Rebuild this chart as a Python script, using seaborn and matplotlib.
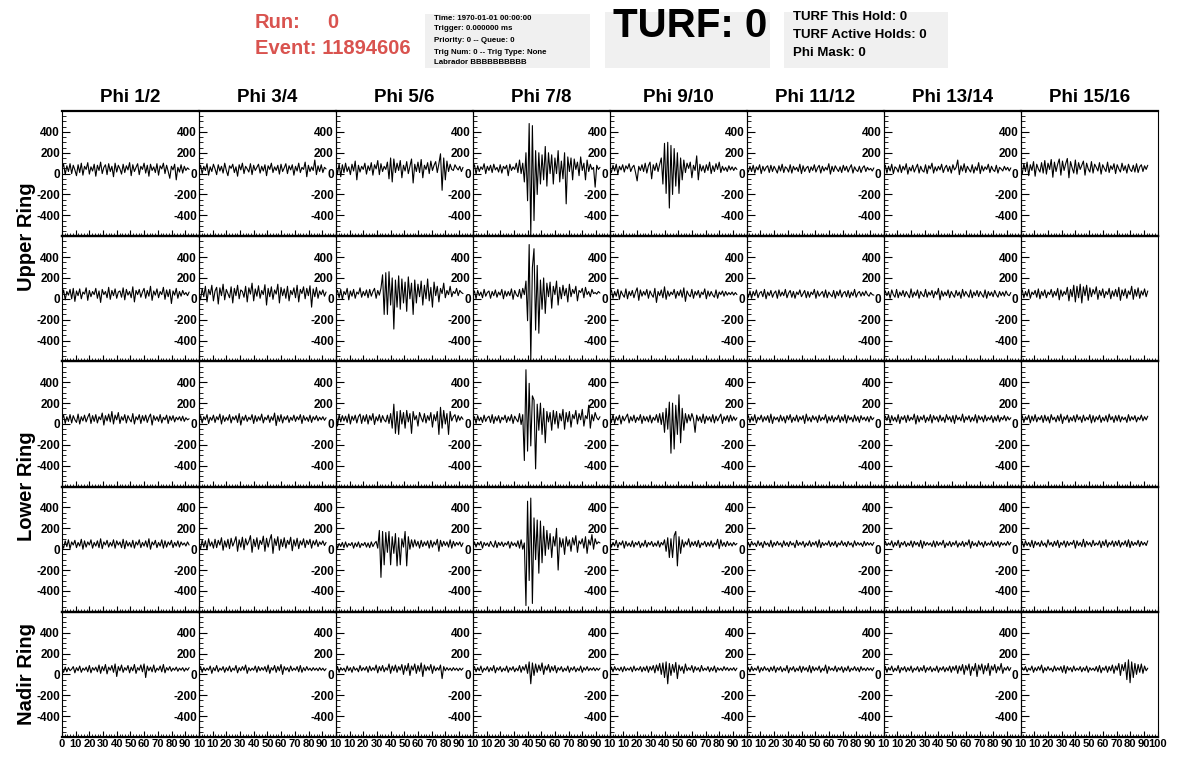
import numpy as np
import matplotlib
matplotlib.use("Agg")
import matplotlib.pyplot as plt
from matplotlib.patches import Rectangle
from matplotlib.ticker import FixedLocator, MultipleLocator
import seaborn as sns

sns.set_style("white")
plt.rcParams["font.family"] = ["Liberation Sans", "DejaVu Sans"]
plt.rcParams["font.weight"] = "bold"
plt.rcParams["axes.unicode_minus"] = False
plt.rcParams["text.color"] = "black"
plt.rcParams["xtick.color"] = "black"
plt.rcParams["ytick.color"] = "black"

phi_labels = ["Phi 1/2", "Phi 3/4", "Phi 5/6", "Phi 7/8",
              "Phi 9/10", "Phi 11/12", "Phi 13/14", "Phi 15/16"]
ring_labels = ["Upper Ring", "Lower Ring", "Nadir Ring"]
y_ticks = [-400, -200, 0, 200, 400]
x_ticks = [0, 10, 20, 30, 40, 50, 60, 70, 80, 90, 100]
DT = 1.175  # ns per sample

info_lines = ["Time: 1970-01-01 00:00:00", "Trigger: 0.000000 ms",
              "Priority: 0 -- Queue: 0", "Trig Num: 0 -- Trig Type: None",
              "Labrador BBBBBBBBBB"]
turf_lines = ["TURF This Hold: 0", "TURF Active Holds: 0", "Phi Mask: 0"]

# ---- upper ring, first row ----
u1_c0 = [50, 90, -10, 75, 20, 95, 0, 80, 35, -20, 85, 10, 100, -15, 70, 40, 105, -5, 65, 25,
         90, -25, 80, 30, 110, 0, 60, 85, -10, 95, 20, 70, -30, 100, 15, 80, 45, -5, 90, 10,
         75, 35, 105, -20, 85, 20, 60, 95, -10, 70, 40, 100, 5, 80, -25, 90, 30, 65, 10, 95,
         -15, 75, 45, 100, 0, 80, 20, -45, 70, 35, 90, -60, 60, 15, 85, 5, 70, 30, 55, 40]
u1_c1 = [40, 80, 0, 70, 30, 95, -15, 65, 20, 90, 45, -10, 85, 25, 70, 5, 100, 30, -20, 75,
         50, 90, 10, 65, -25, 85, 35, 100, 0, 70, 45, 15, 95, -10, 80, 30, 60, 90, 5, 70,
         25, 85, -20, 75, 40, 100, 10, 65, 30, 80, -5, 90, 20, 55, 95, 0, 75, 35, 85, -15,
         70, 25, 100, 10, 60, 40, 110, -30, 80, 20, 65, 30, 130, -10, 75, 20, 85, 10, 60, 45]
u1_c2 = [70, 0, 95, -30, 85, 10, 100, 20, 65, -10, 90, 25, 120, -60, 80, 15, 70, 40, 100, -5,
         75, 30, 105, -15, 85, 45, 125, -10, 95, 20, 70, 40, 110, -50, 150, -80, 140, 10, 100, 30,
         125, -40, 80, 25, 115, 0, 70, 140, -90, 90, 20, 110, 10, 135, -40, 80, 40, 105, 0, 120,
         30, 80, 115, 10, 95, 190, -160, 150, -60, 120, 20, 90, 40, 30, 85, 55, 35, 70, 20, 60]
u1_c3 = [50, 85, -5, 75, 20, 65, 40, 95, 0, 70, 30, 80, 10, 90, 35, 60, 15, 85, 5, 70,
         45, 80, -20, 90, 30, 65, 40, 100, 10, 130, 0, 100, -80, 200, -260, 480, -590, 460, -450, 220,
         -200, 200, -100, 180, -60, 260, -120, 200, 0, 180, -100, 150, 0, 220, -80, 120, -50, 200, -290, 160,
         20, 150, -60, 140, 40, 110, -20, 160, 30, 100, -60, 130, 20, 90, 40, 60, -130, 80, 40, 60]
u1_c4 = [60, 10, 80, 25, 90, -5, 70, 35, 85, 15, 75, 45, 95, 20, 60, 80, 10, -70, 70, 30,
         85, 20, 100, 5, 75, 110, -50, 85, 30, 100, 20, 90, 150, -100, 290, -190, 300, -330, 270, -200,
         240, -120, 200, -190, 150, -60, 130, 10, 100, 50, 110, -40, 80, 30, 170, -60, 90, 25, 75, 10,
         85, 30, 110, 0, 75, 20, 95, 40, 110, 10, 70, 30, 60, 20, 75, 35, 65, 30, 60, 40]
u1_c5 = [55, 15, 70, 20, 80, 5, 65, 35, 85, 0, 70, 25, 60, 75, 10, 80, 20, 70, 40, 5,
         75, 25, 90, 10, 65, 50, 15, 85, 5, 70, 35, 60, 20, 90, 0, 75, 20, 55, 70, 10,
         65, 30, 85, 15, 55, 80, 5, 70, 25, 60, 35, 95, -5, 70, 20, 75, 45, 20, 65, 10,
         80, 30, 70, 15, 55, 85, 5, 65, 35, 20, 70, 10, 55, 75, 20, 60, 35, 50, 25, 55]
u1_c6 = [45, 80, 5, 70, 25, 90, 0, 65, 50, 15, 85, 10, 70, 35, 95, -5, 60, 25, 80, 15,
         55, 90, 5, 70, 30, 15, 85, 0, 75, 45, 100, 5, 65, 25, 70, 35, 90, 10, 55, 80,
         20, 70, 5, 85, 35, 60, 130, -10, 75, 25, 95, 10, 70, 40, 15, 85, 5, 65, 30, 105,
         0, 75, 25, 65, 40, 90, 10, 70, 35, 20, 80, 5, 60, 45, 25, 70, 35, 60, 25, 55]
u1_c7 = [70, -5, 95, 20, 110, -20, 85, 30, 115, -25, 90, 45, 15, 105, 5, 125, -5, 100, 40, 135,
         -35, 110, 20, 90, 140, -15, 120, 30, 95, 145, -40, 115, 55, 5, 130, -5, 105, 40, 80, 120,
         -15, 100, 45, 15, 115, 5, 90, 60, 25, 105, -5, 85, 50, 20, 110, 10, 75, 40, 95, 0,
         85, 45, 15, 100, 30, 75, 5, 90, 40, 20, 80, 15, 95, 10, 65, 85, 20, 75, 40, 80]

# ---- upper ring, second row ----
u2_c0 = [25, 85, -10, 70, 35, 90, 0, 100, -25, 75, 30, 95, 0, 65, 45, 105, -15, 80, 20, 70,
         40, 100, 5, 75, -35, 90, 40, 70, 10, 110, -5, 80, 30, 95, 5, 65, 75, 15, 105, -10,
         90, 35, 70, 10, 115, -30, 80, 40, 90, 15, 65, 100, 5, 80, 25, 120, -15, 75, 35, 95,
         10, 70, 40, 110, -5, 85, 20, 90, -45, 75, 35, 100, 5, 70, 25, 80, 40, 60, 30, 65]
u2_c1 = [55, -10, 100, 20, 120, -30, 90, 40, 130, -20, 75, 110, -50, 105, 30, 140, -10, 90, 50, 10,
         115, -40, 100, 30, 130, 0, 85, 70, 15, 120, -30, 105, 45, 150, -20, 95, 25, 125, 5, 80,
         40, 135, -60, 100, 20, 115, -5, 85, 45, 140, -40, 110, 30, 95, 5, 120, -20, 80, 40, 105,
         10, 130, -30, 90, 50, 115, 0, 100, 30, 125, -80, 95, 20, 110, 5, 75, 40, 85, 25, 65]
u2_c2 = [50, 80, 10, 90, -5, 70, 40, 100, -10, 75, 25, 90, 5, 65, 45, 105, 15, 70, 30, 85,
         10, 90, 25, 70, 100, 5, 80, 35, 100, 230, -150, 250, -150, 260, -60, 200, -290, 180, -80, 220,
         -100, 190, -40, 160, -120, 210, 0, 150, -150, 180, -40, 140, 20, 170, -60, 130, 0, 190, -20, 110,
         -80, 160, 30, 120, -30, 100, 50, 150, 10, 80, 40, 120, 20, 70, 50, 100, 30, 80, 60, 50]
u2_c3 = [40, 75, 0, 80, 30, 65, 10, 90, 25, 60, 75, 5, 70, 30, 85, 15, 65, 35, 90, 0,
         75, 25, 70, 30, 95, -5, 80, 40, 20, 90, 5, 100, 40, 170, -210, 520, -590, 300, 480, -300, 320,
         -330, 180, -100, 200, -140, 150, 20, 160, -90, 120, 40, 170, -60, 110, 0, 130, 30, 100, -30, 140,
         20, 90, 50, 120, -20, 80, 60, 100, 10, 110, 40, 70, 20, 90, 50, 60, 45, 70, 55]
u2_c4 = [45, 85, 5, 70, 25, 90, -5, 75, 40, 15, 95, 0, 70, 30, 80, 10, 65, 105, -15, 85,
         25, 70, 35, 90, 5, 75, 40, 15, 100, -35, 70, 30, 85, 10, 115, -5, 75, 25, 65, 40,
         90, 5, 70, 30, 85, 15, 105, -25, 75, 40, 20, 90, 5, 70, 35, 80, 10, 65, 40, 95,
         0, 75, 25, 70, 35, 15, 85, 5, 65, 40, 75, 25, 70, 35, 60, 40, 65, 35, 60, 40]
u2_c5 = [60, 15, 75, 5, 70, 30, 85, 10, 55, 70, 20, 90, 0, 65, 30, 80, 15, 55, 75, 5,
         85, 25, 65, 30, 90, 10, 55, 80, 15, 70, 5, 65, 40, 85, 20, 50, 80, 10, 70, 15,
         65, 40, 90, 5, 75, 25, 50, 70, 15, 85, 10, 65, 40, 20, 80, 5, 70, 30, 85, 15,
         55, 70, 20, 80, 10, 65, 30, 90, 15, 55, 70, 25, 65, 30, 75, 40, 25, 60, 40, 35]
u2_c6 = [25, 75, 30, 70, 5, 85, 40, 15, 90, 10, 65, 30, 80, 20, 70, 40, 10, 95, 15, 65,
         30, 85, 5, 70, 40, 20, 90, 15, 65, 35, 80, 10, 70, 40, 100, -10, 75, 25, 65, 30,
         85, 10, 70, 40, 15, 80, 30, 65, 5, 90, 25, 70, 40, 15, 85, 10, 65, 30, 80, 20,
         70, 40, 15, 85, 5, 70, 30, 65, 20, 80, 40, 15, 70, 30, 65, 25, 75, 40, 30, 60]
u2_c7 = [45, 85, 10, 70, 25, 90, 5, 65, 40, 80, 15, 95, 0, 70, 30, 85, 10, 65, 40, 90,
         15, 70, 30, 100, -10, 85, 25, 70, 40, 110, -20, 90, 20, 130, -30, 120, 10, 140, -40, 115,
         30, 130, -15, 105, 20, 90, 45, 115, -5, 80, 30, 95, 10, 70, 40, 100, 0, 75, 25, 90,
         20, 110, -15, 85, 30, 95, 5, 75, 40, 120, -5, 90, 25, 105, 5, 75, 35, 95, 20, 75]

# ---- lower ring, first row ----
l1_c0 = [45, 85, 5, 70, 25, 90, 10, 80, 40, 15, 95, 0, 70, 30, 85, 20, 65, 100, 5, 80,
         25, 90, 10, 70, 40, 105, -10, 80, 30, 95, 20, 120, 0, 85, 40, 110, 5, 70, 35, 90,
         10, 80, 45, 20, 100, 0, 70, 40, 90, 5, 80, 30, 85, 15, 65, 95, -10, 80, 35, 70,
         25, 90, 10, 65, 40, 85, 5, 75, 35, 80, 20, 65, 40, 70, 30, 75, 25, 60, 40, 50]
l1_c1 = [30, 80, 10, 70, 40, 90, 5, 65, 35, 85, 15, 70, 40, 95, 0, 80, 25, 65, 35, 90,
         10, 70, 40, 80, 15, 100, -10, 70, 35, 85, 25, 65, 40, 90, 5, 80, 25, 70, 35, 95,
         10, 65, 40, 85, 15, 70, 35, 105, -15, 80, 25, 90, 10, 70, 40, 80, 15, 65, 35, 85,
         25, 70, 40, 90, 5, 80, 35, 65, 25, 85, 15, 70, 40, 80, 30, 65, 40, 70, 35, 60]
l1_c2 = [130, -20, 90, 20, 80, 30, 75, 15, 95, 0, 75, 35, 85, 10, 70, 95, 5, 80, 25, 90,
         0, 80, 35, 100, -5, 70, 30, 90, 15, 80, 40, 20, 85, 5, 100, -40, 190, -90, 120, -100,
         130, 0, 110, -40, 130, 20, 100, -90, 120, 40, 80, -20, 110, 60, 20, 100, 10, 80, 35, 110,
         -30, 90, 30, 120, -100, 160, -40, 130, 0, 100, -100, 120, 30, 70, 90, 20, 80, 35, 70, 45]
l1_c3 = [40, 70, 5, 80, 30, 65, 15, 85, 25, 60, 75, 15, 90, 5, 70, 30, 80, 10, 65, 40,
         85, 15, 70, 30, 90, 5, 75, 45, 20, 100, -5, 90, -350, 520, -260, 390, -210, 270, 230, -430,
         190, -60, 200, -100, 150, -180, 120, 20, 110, -60, 130, 0, 120, -40, 100, 30, 140, -50, 110, 20,
         120, -30, 90, 50, 130, 0, 100, 40, 140, -20, 80, 50, 180, -40, 90, 30, 110, 60, 40, 70]
l1_c4 = [75, 15, 90, 5, 70, 35, 85, 0, 75, 30, 65, 95, 10, 70, 30, 85, 15, 65, 35, 90,
         5, 75, 30, 70, 20, 85, 10, 65, 35, 90, 15, 100, -5, 110, -80, 150, -50, 210, -280, 200, -240, 180,
         -100, 280, -180, 150, -60, 100, 10, 90, 30, 100, 50, -80, 85, 30, 70, 15, 95, 5,
         75, 35, 70, 20, 90, 10, 75, 30, 65, 95, 5, 70, 35, 80, 20, 85, 30, 70, 35, 60]
l1_c5 = [50, 80, 15, 70, 30, 90, 10, 65, 40, 85, 20, 70, 35, 80, 15, 95, 5, 70, 40, 65,
         20, 85, 30, 70, 10, 80, 40, 90, 15, 65, 30, 85, 20, 70, 40, 80, 5, 95, 30, 65,
         20, 80, 40, 70, 15, 85, 30, 65, 40, 90, 10, 70, 30, 80, 20, 65, 40, 85, 15, 70,
         30, 90, 10, 80, 40, 65, 20, 85, 30, 70, 15, 80, 40, 65, 30, 70, 20, 75, 40, 60]
l1_c6 = [20, 75, 35, 85, 10, 80, 30, 65, 20, 90, 5, 70, 40, 80, 15, 85, 30, 65, 40, 95,
         0, 80, 20, 70, 40, 85, 15, 65, 30, 90, 10, 80, 40, 70, 20, 85, 30, 65, 15, 90,
         40, 70, 20, 80, 5, 85, 40, 65, 30, 95, 15, 70, 40, 80, 20, 65, 30, 90, 10, 80,
         40, 70, 20, 85, 30, 65, 40, 80, 15, 70, 30, 85, 20, 65, 40, 80, 30, 70, 40, 60]
l1_c7 = [30, 80, 15, 70, 40, 85, 10, 75, 30, 90, 20, 65, 40, 80, 15, 85, 30, 70, 10, 90,
         40, 65, 20, 80, 30, 95, 5, 70, 40, 85, 15, 65, 30, 80, 20, 90, 40, 70, 15, 85,
         30, 65, 40, 90, 10, 80, 20, 70, 40, 85, 15, 65, 30, 80, 20, 95, 40, 70, 15, 80,
         30, 85, 20, 70, 40, 65, 15, 90, 30, 70, 40, 80, 20, 65, 40, 85, 30, 70, 40, 75]

# ---- lower ring, second row ----
l2_c0 = [50, 10, 80, 25, 90, 5, 70, 40, 85, 15, 65, 30, 95, 0, 80, 20, 70, 40, 90, 10,
         65, 30, 80, 15, 100, 5, 70, 40, 85, 20, 65, 30, 90, 10, 80, 40, 70, 15, 95, 5,
         80, 30, 65, 20, 85, 10, 70, 40, 90, 15, 65, 30, 80, 20, 100, 0, 70, 40, 85, 15,
         65, 30, 90, 10, 80, 20, 70, 40, 85, 15, 65, 30, 80, 20, 70, 40, 60, 30, 70, 40]
l2_c1 = [60, 0, 90, 20, 80, -5, 100, 30, 70, 10, 95, 15, 85, 40, 110, -10, 80, 20, 95, 5,
         105, 30, 70, 120, -20, 90, 20, 115, -5, 100, 40, 75, 130, -30, 95, 25, 110, 0, 85, 45,
         125, -20, 105, 20, 90, 140, -40, 100, 35, 120, -10, 95, 25, 110, 10, 85, 45, 115, -15, 90,
         30, 105, 5, 80, 40, 100, 15, 85, 45, 95, 10, 80, 40, 90, 25, 70, 45, 80, 35, 65]
l2_c2 = [65, 10, 55, 25, 65, 15, 70, 20, 55, 35, 65, 10, 60, 25, 70, 15, 55, 35, 65, 20,
         60, 15, 70, 25, 55, 75, 10, 180, -270, 170, -150, 160, -30, 170, -150, 120, -40, 150, -160, 110,
         -150, 100, 20, 170, -160, 120, 0, 90, 20, 90, 30, 75, 10, 85, 25, 70, 35, 80, 10, 85,
         20, 70, 40, 95, -20, 85, 25, 75, 35, 70, 20, 90, 10, 75, 30, 65, 40, 70, 25, 60]
l2_c3 = [35, 70, 20, 65, 40, 75, 10, 65, 35, 60, 25, 75, 40, 20, 80, 15, 65, 35, 70, 25,
         60, 40, 75, 10, 70, 35, 60, 25, 80, 10, 90, 0, 60, -540, 460, -300, 490, -520, 300, -100, 280,
         -230, 270, -130, 220, -60, 180, 0, 150, -80, 120, 30, 200, -200, 110, 20, 100, -50, 120, 30,
         90, -20, 110, 40, 130, -30, 80, 50, 100, 10, 120, -40, 90, 40, 140, 0, 100, 50, 70, 60]
l2_c4 = [70, 20, 65, 30, 85, 15, 65, 40, 80, 10, 75, 30, 60, 25, 80, 20, 65, 40, 75, 15,
         60, 30, 85, 20, 65, 40, 75, 25, 60, 30, 80, 20, 65, 40, 90, -20, 110, -80, 100, -80, 130,
         170, -160, 120, -40, 90, 20, 70, 40, 100, 20, 70, 35, 75, 25, 85, 15, 60, 40, 75,
         25, 65, 30, 80, 20, 60, 40, 95, 5, 90, 30, 65, 25, 75, 35, 60, 30, 65, 40, 55]
l2_c5 = [35, 65, 20, 75, 40, 60, 25, 80, 35, 65, 15, 75, 40, 60, 25, 85, 20, 65, 35, 75,
         40, 60, 20, 80, 35, 65, 25, 75, 40, 60, 15, 85, 35, 65, 40, 75, 20, 60, 35, 80,
         25, 65, 40, 75, 20, 90, 15, 65, 35, 60, 40, 80, 25, 65, 35, 75, 20, 60, 40, 80,
         35, 65, 25, 75, 40, 60, 20, 80, 35, 65, 40, 60, 25, 75, 35, 65, 40, 60, 35, 65]
l2_c6 = [25, 75, 35, 60, 40, 80, 20, 65, 35, 85, 15, 65, 40, 75, 25, 60, 35, 80, 20, 75,
         40, 65, 25, 85, 10, 75, 35, 65, 40, 60, 25, 80, 20, 75, 35, 65, 40, 85, 15, 60,
         35, 75, 25, 65, 40, 80, 20, 60, 35, 75, 25, 65, 40, 90, 10, 75, 35, 60, 25, 80,
         40, 65, 20, 75, 35, 60, 40, 80, 25, 65, 35, 75, 20, 65, 40, 60, 35, 75, 40, 65]
l2_c7 = [40, 75, 20, 80, 35, 65, 25, 85, 15, 75, 40, 65, 25, 80, 35, 60, 20, 90, 40, 65,
         25, 75, 35, 85, 15, 65, 40, 80, 20, 75, 35, 65, 45, 85, 10, 80, 35, 65, 25, 95,
         20, 75, 40, 65, 25, 85, 35, 60, 40, 80, 15, 75, 35, 90, 20, 65, 40, 80, 25, 75,
         35, 85, 20, 65, 40, 80, 25, 90, 15, 75, 35, 65, 40, 85, 25, 75, 40, 65, 35, 80]

# ---- nadir ring ----
n_c0 = [55, 20, 70, 25, 65, 35, 50, 75, 15, 65, 35, 80, 20, 60, 40, 70, 25, 85, 15, 65,
        40, 70, 25, 90, 10, 75, 35, 95, 5, 70, 40, 85, 20, 100, -20, 75, 35, 90, 20, 65,
        40, 85, 15, 70, 35, 95, 10, 65, 40, 90, 25, 100, -30, 80, 35, 70, 25, 90, 20, 60,
        40, 80, 25, 95, 15, 65, 40, 75, 30, 60, 40, 70, 30, 60, 40, 65, 30, 60, 40, 65]
n_c1 = [40, 75, 20, 65, 35, 60, 40, 80, 10, 65, 35, 85, 25, 60, 40, 75, 20, 65, 35, 80,
        25, 60, 40, 85, 15, 65, 35, 75, 40, 90, 10, 65, 35, 60, 40, 80, 20, 75, 35, 65,
        40, 75, 25, 90, 10, 65, 40, 85, 20, 75, 35, 95, 0, 75, 40, 65, 25, 80, 35, 60,
        40, 75, 25, 85, 20, 65, 35, 75, 40, 60, 35, 65, 40, 60, 35, 65, 40, 60, 35, 55]
n_c2 = [35, 75, 20, 65, 40, 60, 25, 80, 35, 65, 20, 75, 40, 60, 25, 85, 35, 65, 40, 75,
        20, 80, 35, 65, 40, 90, 15, 75, 35, 85, 25, 65, 40, 100, 10, 80, 35, 90, 20, 75,
        40, 95, 0, 85, 35, 105, -10, 80, 40, 100, 10, 85, 30, 110, -20, 90, 35, 75, 40, 95,
        10, 80, 35, 65, 40, 90, -40, 75, 35, 65, 40, 60, 35, 65, 40, 60, 35, 60, 40, 60]
n_c3 = [40, 75, 25, 65, 35, 80, 20, 60, 40, 75, 25, 65, 35, 85, 15, 65, 40, 75, 25, 60,
        35, 80, 20, 65, 40, 75, 25, 60, 35, 85, 20, 75, 40, 95, 10, 120, -90, 110, -10, 100,
        20, 90, 35, 110, 0, 80, 40, 95, 20, 75, 35, 85, 15, 65, 40, 75, 25, 60, 35, 80,
        20, 65, 40, 75, 25, 60, 35, 80, 20, 65, 40, 75, 35, 60, 40, 65, 35, 60, 40, 60]
n_c4 = [35, 70, 25, 75, 40, 60, 35, 70, 25, 75, 35, 60, 40, 70, 25, 80, 35, 60, 40, 75,
        25, 70, 35, 80, 20, 75, 40, 85, 15, 90, 35, 105, 0, 110, -30, 120, -90, 105, -10, 95,
        20, 115, -40, 90, 35, 75, 10, 100, 35, 65, 40, 85, 20, 75, 40, 65, 25, 85, 35, 60,
        40, 75, 25, 65, 35, 80, 20, 65, 40, 60, 35, 75, 40, 65, 35, 60, 40, 65, 35, 60]
n_c5 = [40, 65, 25, 75, 35, 60, 40, 80, 20, 65, 35, 75, 40, 60, 25, 70, 35, 80, 20, 65,
        40, 75, 25, 60, 35, 85, 15, 65, 40, 75, 25, 60, 35, 80, 20, 75, 40, 65, 25, 85,
        15, 75, 35, 65, 40, 80, 20, 60, 35, 90, 10, 75, 40, 60, 35, 80, 25, 65, 40, 75,
        20, 65, 35, 80, 25, 60, 40, 75, 35, 65, 25, 75, 40, 60, 35, 65, 40, 60, 35, 65]
n_c6 = [35, 75, 20, 65, 40, 80, 25, 60, 35, 85, 15, 65, 40, 75, 25, 65, 35, 80, 20, 60,
        40, 75, 25, 65, 35, 85, 20, 65, 40, 75, 25, 60, 35, 80, 20, 65, 40, 75, 25, 65,
        35, 80, 20, 75, 40, 85, 10, 80, 35, 95, 0, 85, 40, 100, -10, 75, 35, 105, -20, 90,
        40, 100, 5, 85, 35, 105, -10, 80, 40, 95, 15, 75, 40, 105, 10, 65, 40, 75, 35, 65]
n_c7 = [35, 65, 40, 75, 25, 60, 40, 80, 20, 65, 35, 75, 40, 90, 15, 65, 35, 75, 40, 60,
        25, 80, 35, 65, 40, 75, 20, 85, 10, 75, 40, 65, 25, 80, 35, 60, 40, 75, 25, 65,
        35, 80, 20, 65, 40, 60, 35, 75, 25, 85, 15, 65, 40, 80, 20, 75, 35, 90, 10, 80,
        40, 105, -10, 95, 35, 115, -50, 140, -80, 120, -30, 105, 0, 95, 20, 100, 10, 80, 35, 60]

grid = [
    [u1_c0, u1_c1, u1_c2, u1_c3, u1_c4, u1_c5, u1_c6, u1_c7],
    [u2_c0, u2_c1, u2_c2, u2_c3, u2_c4, u2_c5, u2_c6, u2_c7],
    [l1_c0, l1_c1, l1_c2, l1_c3, l1_c4, l1_c5, l1_c6, l1_c7],
    [l2_c0, l2_c1, l2_c2, l2_c3, l2_c4, l2_c5, l2_c6, l2_c7],
    [n_c0, n_c1, n_c2, n_c3, n_c4, n_c5, n_c6, n_c7],
]

W, H = 1196, 772
fig = plt.figure(figsize=(W / 100, H / 100), dpi=100)


def box(x, y, w, h):
    # pixel box (top-left origin) -> figure fraction rect
    return [x / W, 1 - (y + h) / H, w / W, h / H]


X0, COLW = 62, 136.95
Y0, ROWH = 111, 125.2
n_rows, n_cols = len(grid), len(grid[0])

for r in range(n_rows):
    for c in range(n_cols):
        ax = fig.add_axes(box(X0 + c * COLW, Y0 + r * ROWH, COLW, ROWH))
        ax.set_facecolor("none")
        vals = np.array(grid[r][c], dtype=float)
        t = np.arange(len(vals)) * DT
        sns.lineplot(x=t, y=vals, ax=ax, color="black", linewidth=0.8,
                     sort=False, estimator=None)
        ax.set_xlim(0, 100)
        ax.set_ylim(-600, 600)
        ax.set_xlabel("")
        ax.set_ylabel("")

        ax.yaxis.set_major_locator(FixedLocator(y_ticks))
        ax.set_yticklabels([str(v) for v in y_ticks])
        ax.yaxis.set_minor_locator(MultipleLocator(50))
        ax.xaxis.set_major_locator(FixedLocator(x_ticks))
        ax.xaxis.set_minor_locator(MultipleLocator(2))
        if r == n_rows - 1:
            labs = [str(v) for v in x_ticks]
            if c > 0:
                labs[0] = ""
            if c < n_cols - 1:
                labs[-1] = "10"
            ax.set_xticklabels(labs)
        else:
            ax.set_xticklabels([""] * len(x_ticks))

        ax.tick_params(axis="y", which="major", direction="in", length=6,
                       width=0.8, labelsize=8.5, pad=1.5, left=True, right=False)
        ax.tick_params(axis="y", which="minor", direction="in", length=3,
                       width=0.6, left=True, right=False)
        ax.tick_params(axis="x", which="major", direction="in", length=4,
                       width=0.8, labelsize=8, pad=1.5, bottom=True, top=False)
        ax.tick_params(axis="x", which="minor", direction="in", length=2,
                       width=0.6, bottom=True, top=False)

        for side, sp in ax.spines.items():
            sp.set_visible(True)
            sp.set_color("black")
            sp.set_linewidth(1.6 if side in ("top", "bottom") else 0.8)

# column titles
for c, lab in enumerate(phi_labels):
    fig.text((X0 + (c + 0.5) * COLW) / W, 1 - 97 / H, lab,
             ha="center", va="center", fontsize=13.5, fontweight="bold")

# ring labels: centred on the rows they span
ring_y = [Y0 + 1 * ROWH, Y0 + 3 * ROWH, Y0 + 4.5 * ROWH]
for lab, yc in zip(ring_labels, ring_y):
    fig.text(26 / W, 1 - yc / H, lab, rotation=90, ha="center", va="center",
             fontsize=14.5, fontweight="bold")

# header
red = "#d9534f"
fig.text(255 / W, 1 - 22 / H, "Run:", color=red, fontsize=14.5,
         fontweight="bold", va="center")
fig.text(327 / W, 1 - 22 / H, "0", color=red, fontsize=14.5,
         fontweight="bold", va="center")
fig.text(255 / W, 1 - 49 / H, "Event: 11894606", color=red, fontsize=14.5,
         fontweight="bold", va="center")

for (bx, by, bw, bh) in [(425, 14, 165, 54), (605, 12, 165, 56), (784, 12, 164, 56)]:
    fig.patches.append(Rectangle((bx / W, 1 - (by + bh) / H), bw / W, bh / H,
                                 transform=fig.transFigure, facecolor="#f0f0f0",
                                 edgecolor="none", zorder=0))

for line, yc in zip(info_lines, [18, 29, 41, 52, 62]):
    fig.text(434 / W, 1 - yc / H, line, fontsize=5.7, fontweight="bold",
             va="center")

fig.text(613 / W, 1 - 26 / H, "TURF: 0", fontsize=29, fontweight="bold",
         va="center")

for line, yc in zip(turf_lines, [17, 35, 53]):
    fig.text(793 / W, 1 - yc / H, line, fontsize=9.5, fontweight="bold",
             va="center")

fig.savefig("out.png", dpi=100, facecolor="white")
